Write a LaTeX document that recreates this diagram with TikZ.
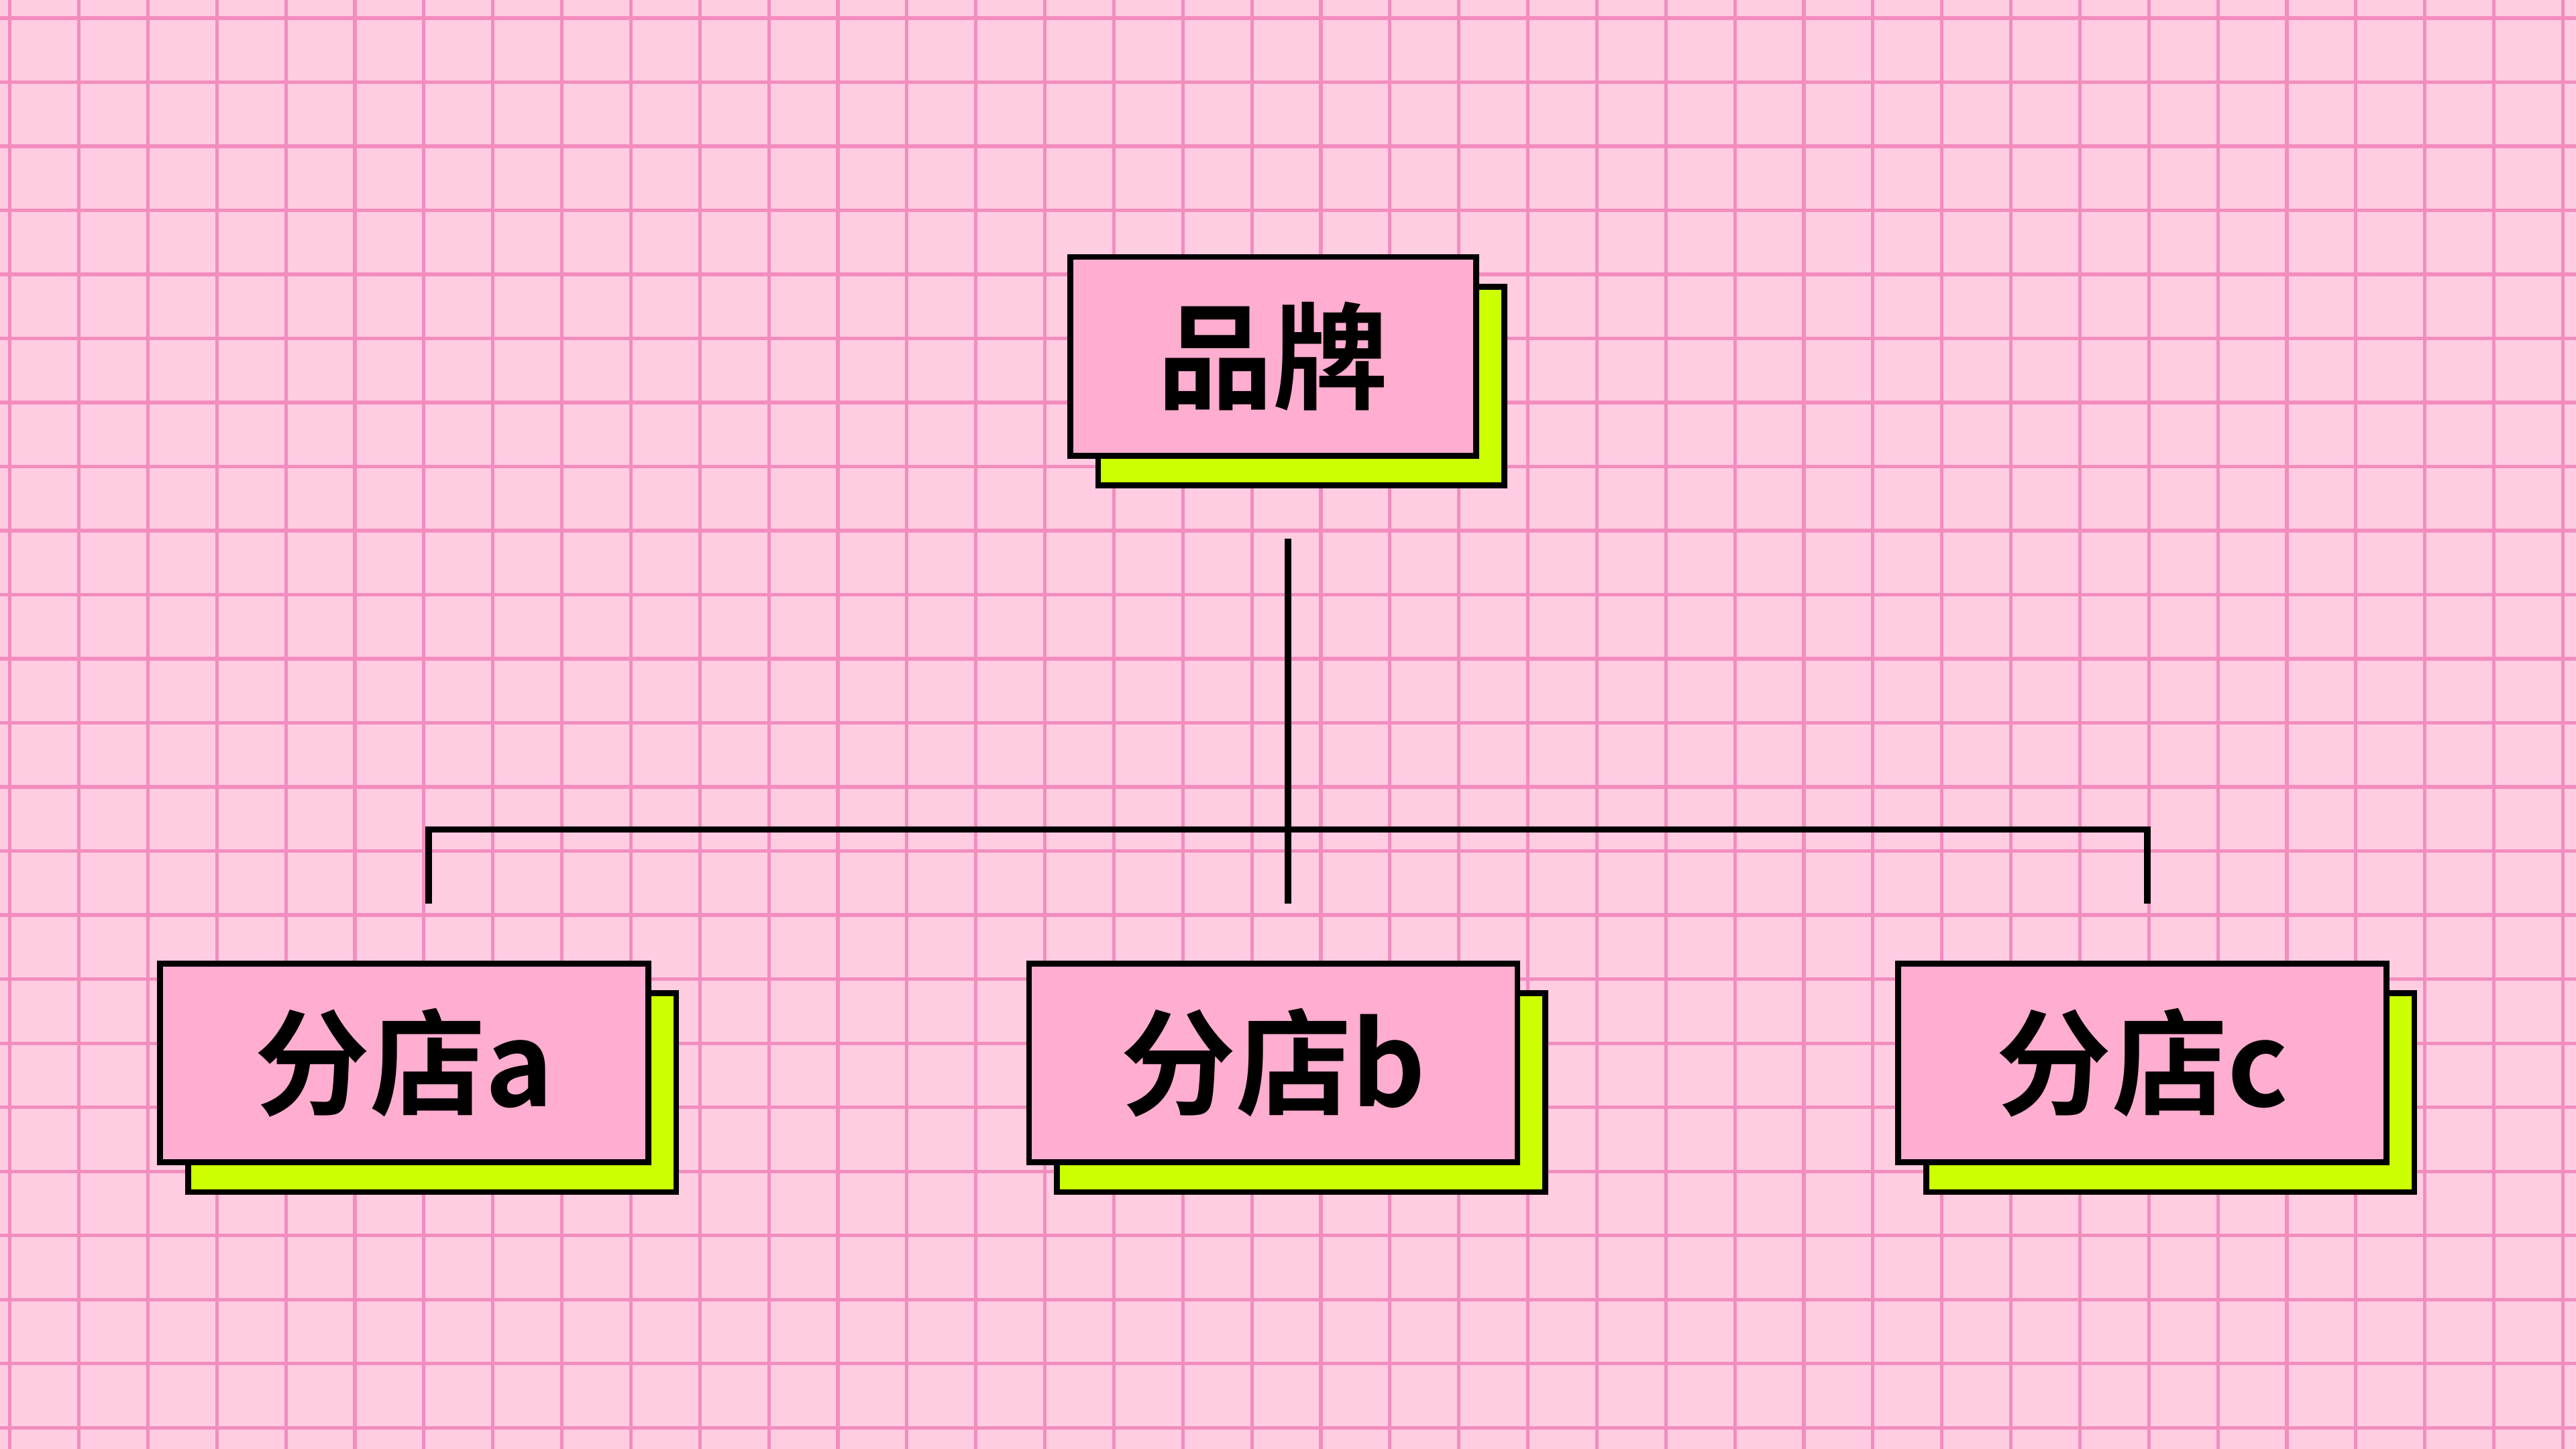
\documentclass[tikz,border=0pt]{standalone}
\usepackage{fontspec}
\newfontfamily\cjk{Noto Sans CJK SC Bold}
\definecolor{bgpink}{HTML}{FFCCE2}
\definecolor{gridpink}{HTML}{F28DBE}
\definecolor{boxpink}{HTML}{FFADD0}
\definecolor{lime}{HTML}{CCFF00}
\tikzset{
  box/.style={draw=black, line width=1pt, fill=boxpink, minimum height=1.21cm, inner sep=0pt, font=\cjk\fontsize{20}{20}\selectfont},
  shade/.style={box, fill=lime},
  link/.style={black, line width=1.1pt}
}
\begin{document}
\begin{tikzpicture}[x=0.01cm, y=-0.01cm]
    \fill [bgpink] (0,0) rectangle (1568,882);
    \useasboundingbox (0,0) rectangle (1568,882);
    % grid
    \foreach \gx in {6,48,...,1568}
        \draw [gridpink, line width=0.6pt] (\gx,0) -- (\gx,882);
    \foreach \gy in {11,50,...,882}
        \draw [gridpink, line width=0.6pt] (0,\gy) -- (1568,\gy);
    % boxes
    \node [shade, minimum width=2.47cm] at (792,235) {};
    \node [box, minimum width=2.47cm] (brand) at (775,217) {品牌};
    \node [shade, minimum width=2.97cm] at (263,665) {};
    \node [box, minimum width=2.97cm] (shopa) at (246,647) {分店a};
    \node [shade, minimum width=2.97cm] at (792,665) {};
    \node [box, minimum width=2.97cm] (shopb) at (775,647) {分店b};
    \node [shade, minimum width=2.97cm] at (1321,665) {};
    \node [box, minimum width=2.97cm] (shopc) at (1304,647) {分店c};
    % connectors
    \coordinate (top) at (784,328);
    \coordinate (mid) at (784,505);
    \coordinate (ja) at (261,550);
    \coordinate (jb) at (784,550);
    \coordinate (jc) at (1307,550);
    \draw [link] (top) -- (jb);
    \draw [link] (ja) |- (mid) -| (jc);
\end{tikzpicture}
\end{document}
